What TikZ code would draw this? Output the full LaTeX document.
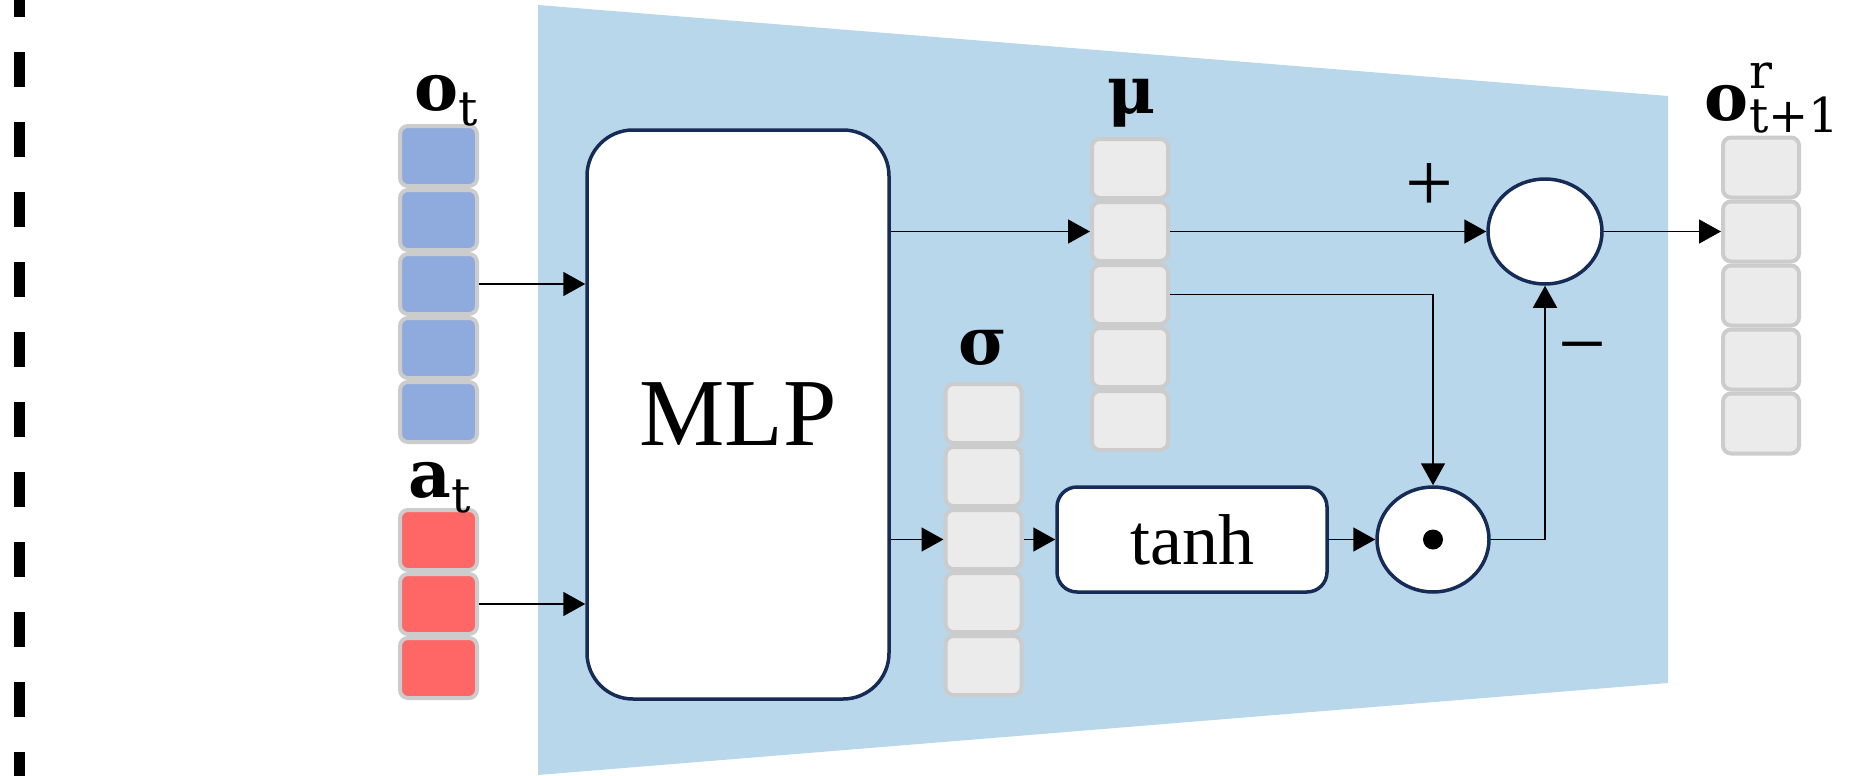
\documentclass[tikz,border=0pt]{standalone}
\usepackage{fontspec}
\setmainfont{Liberation Serif}
\newfontfamily\lblfont{DejaVu Serif}
\usetikzlibrary{arrows.meta,shapes.geometric,calc}
\definecolor{bgblue}{RGB}{185,215,234}
\definecolor{cblue}{RGB}{143,170,220}
\definecolor{cred}{RGB}{255,102,102}
\definecolor{cgray}{RGB}{235,235,235}
\definecolor{cborder}{RGB}{204,204,204}
\definecolor{navy}{RGB}{23,43,87}
\newcommand{\subfs}{\fontsize{48}{48}\selectfont}
\begin{document}
\begin{tikzpicture}[x=1pt,y=-1pt,
  cell/.style={draw=cborder, line width=4pt, rounded corners=8pt, minimum width=76pt, minimum height=60pt, inner sep=0pt},
  cellb/.style={cell, minimum height=59pt},
  opbox/.style={draw=navy, fill=white, line width=3.5pt, inner sep=0pt},
  arr/.style={line width=1.6pt, -{Triangle[length=22pt,width=24pt]}},
  lbl/.style={anchor=base, inner sep=0pt, font=\lblfont\fontsize{66}{66}\selectfont},
  sign/.style={inner sep=0pt, font=\fontsize{85}{85}\selectfont}]
\useasboundingbox (0,0) rectangle (1852,776);
% left dashed separator
\draw[line width=11pt, dash pattern=on 35pt off 35pt, dash phase=18pt] (19,0) -- (19,776);
% blue trapezoid
\fill[bgblue] (538,5) -- (1668,96) -- (1668,683) -- (538,775) -- cycle;
% vectors
\foreach \i in {1,...,5} {
  \node[cell, minimum width=77pt, fill=cblue] (ot\i) at (438.5, 92+64*\i) {};
  \node[cellb, fill=cgray] (mu\i) at (1130, 105.5+63*\i) {};
  \node[cellb, fill=cgray] (sg\i) at (983.5, 350.5+63*\i) {};
  \node[cell, fill=cgray] (or\i) at (1761, 103.5+64*\i) {};
}
\foreach \i in {1,2,3} {
  \node[cell, minimum width=77pt, fill=cred] (at\i) at (438.5, 476+64*\i) {};
}
% labels
\node[lbl] (lot) at (446,110) {\textbf{o}\raisebox{-15pt}{\subfs t}};
\node[lbl] (lat) at (440,497) {\textbf{a}\raisebox{-15pt}{\subfs t}};
\node[lbl] (lmu) at (1132,113) {\textbf{μ}};
\node[lbl] (lsg) at (983,364) {\textbf{σ}};
\node[lbl] (lor) at (1772,120) {\textbf{o}\rlap{\raisebox{32pt}{\subfs r}}\raisebox{-13pt}{\subfs t+1}};
% operators
\node[opbox, rounded corners=46pt, minimum width=302pt, minimum height=569pt, font=\fontsize{96}{96}\selectfont] (mlp) at (738,414.5) {MLP};
\node[opbox, rounded corners=20pt, minimum width=270pt, minimum height=105pt, font=\fontsize{72}{72}\selectfont] (tanh) at (1192,539.5) {tanh};
\node[opbox, ellipse, minimum width=112pt, minimum height=105pt] (odot) at (1433,539.5) {};
\fill (odot.center) circle (10pt);
\node[opbox, ellipse, minimum width=114pt, minimum height=105pt] (plus) at (1545,231.5) {};
\node[sign] (plussign) at (1429,187) {+};
\node[sign] (minussign) at (1582,357) {−};
% connectors
\draw[arr] (ot3.east) -- (ot3.east -| mlp.west);
\draw[arr] (at2.east) -- (at2.east -| mlp.west);
\draw[arr] (mlp.east |- mu2.west) -- (mu2.west);
\draw[arr] (mlp.east |- sg3.west) -- (sg3.west);
\draw[arr] (sg3.east) -- (tanh.west);
\draw[arr] (tanh.east) -- (odot.west);
\draw[arr] (mu2.east) -- (plus.west);
\draw[arr] (mu3.east) -| (odot.north);
\draw[arr] (odot.east) -| (plus.south);
\draw[arr] (plus.east) -- (or2.west);
\end{tikzpicture}
\end{document}
